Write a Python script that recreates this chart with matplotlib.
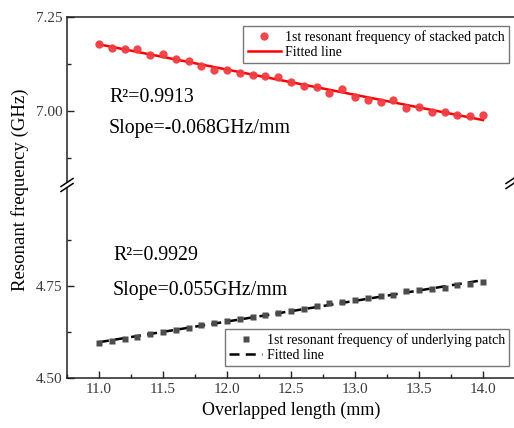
import numpy as np
import matplotlib
matplotlib.use("Agg")
import matplotlib.pyplot as plt
from matplotlib.lines import Line2D
from matplotlib.patches import Polygon
from matplotlib.ticker import MultipleLocator, FixedLocator

plt.rcParams['font.family'] = ['Liberation Serif', 'DejaVu Serif']

# ---- data ----
length_mm = [11.0, 11.1, 11.2, 11.3, 11.4, 11.5, 11.6, 11.7, 11.8, 11.9,
             12.0, 12.1, 12.2, 12.3, 12.4, 12.5, 12.6, 12.7, 12.8, 12.9,
             13.0, 13.1, 13.2, 13.3, 13.4, 13.5, 13.6, 13.7, 13.8, 13.9, 14.0]
stacked_ghz = [7.177, 7.167, 7.166, 7.166, 7.150, 7.151, 7.139, 7.133, 7.119, 7.110,
               7.108, 7.100, 7.096, 7.094, 7.090, 7.076, 7.066, 7.063, 7.047, 7.059,
               7.036, 7.030, 7.024, 7.028, 7.008, 7.010, 6.998, 6.998, 6.989, 6.987, 6.990]
underlying_ghz = [4.594, 4.601, 4.606, 4.611, 4.619, 4.626, 4.630, 4.637, 4.643, 4.649,
                  4.656, 4.660, 4.667, 4.670, 4.677, 4.683, 4.687, 4.695, 4.704, 4.706,
                  4.712, 4.717, 4.722, 4.726, 4.736, 4.738, 4.743, 4.745, 4.752, 4.756, 4.762]
stacked_label = "1st resonant frequency of stacked patch"
underlying_label = "1st resonant frequency of underlying patch"
fit_label = "Fitted line"
top_note = ["R\u00b2=0.9913", "Slope=-0.068GHz/mm"]
bot_note = ["R\u00b2=0.9929", "Slope=0.055GHz/mm"]
x_ticks = [11.0, 11.5, 12.0, 12.5, 13.0, 13.5, 14.0]
top_yticks = [7.00, 7.25]
bot_yticks = [4.50, 4.75]

W, H = 514, 428
fig = plt.figure(figsize=(W / 100, H / 100), dpi=100)

def fx(px):
    return px / W

def fy(py):
    return 1 - py / H

left_px, right_px = 67, 515
top_px, break_px, bottom_px = 17, 185, 378

ax_top = fig.add_axes([fx(left_px), fy(break_px), fx(right_px - left_px), (break_px - top_px) / H])
ax_bot = fig.add_axes([fx(left_px), fy(bottom_px), fx(right_px - left_px), (bottom_px - break_px) / H])

x = np.array(length_mm)
ys = np.array(stacked_ghz)
yu = np.array(underlying_ghz)

red_pt = "#ef3e42"
gray_pt = "#4d4d4d"

# top: stacked patch
ax_top.plot(x, ys, 'o', color=red_pt, ms=6, alpha=0.95, mec='none', label=stacked_label, zorder=3)
p = np.polyfit(x, ys, 1)
ax_top.plot(x, np.polyval(p, x), '-', color='red', lw=1.8, label=fit_label, zorder=2)

# bottom: underlying patch
ax_bot.plot(x, yu, 's', color=gray_pt, ms=5, mec='none', label=underlying_label, zorder=3)
q = np.polyfit(x, yu, 1)
ax_bot.plot(x, np.polyval(q, x), '--', color='black', lw=1.8, dashes=(4, 2.5), label=fit_label, zorder=2)

for ax in (ax_top, ax_bot):
    ax.set_xlim(10.75, 14.25)
    ax.xaxis.set_major_locator(FixedLocator(x_ticks))
    ax.xaxis.set_minor_locator(MultipleLocator(0.25))
    ax.tick_params(which='both', direction='in', labelsize=11, colors='#222222', labelcolor='#3a3a3a')
    ax.tick_params(which='major', length=5, width=1)
    ax.tick_params(which='minor', length=3, width=1)
    for s in ax.spines.values():
        s.set_linewidth(1.1)
        s.set_color('#222222')

ax_top.set_ylim(7.25 - (break_px - top_px) * 0.25 / 94, 7.25)
ax_top.yaxis.set_major_locator(FixedLocator(top_yticks))
ax_top.yaxis.set_minor_locator(FixedLocator([6.875, 7.125]))
ax_top.set_yticklabels(["7.00", "7.25"])
ax_top.spines['bottom'].set_visible(False)
ax_top.tick_params(axis='x', which='both', bottom=False, top=False, labelbottom=False)

ax_bot.set_ylim(4.5, 4.5 + (bottom_px - break_px) * 0.25 / 92)
ax_bot.yaxis.set_major_locator(FixedLocator(bot_yticks))
ax_bot.yaxis.set_minor_locator(FixedLocator([4.625, 4.875]))
ax_bot.set_yticklabels(["4.50", "4.75"])
ax_bot.spines['top'].set_visible(False)
ax_bot.set_xticklabels([f"{v:.1f}" for v in x_ticks])
ax_bot.set_xlabel("Overlapped length (mm)", fontsize=13, labelpad=4)

fig.text(fx(20), fy(190), "Resonant frequency (GHz)", rotation=90, ha='center', va='center', fontsize=13.5)

# annotations
fig.text(fx(109), fy(97), top_note[0], fontsize=14.3, ha='left', va='center')
fig.text(fx(109), fy(128), top_note[1], fontsize=14.3, ha='left', va='center')
fig.text(fx(113), fy(256), bot_note[0], fontsize=14.3, ha='left', va='center')
fig.text(fx(113), fy(290), bot_note[1], fontsize=14.3, ha='left', va='center')

# legends
leg_kw = dict(fontsize=10, frameon=True, fancybox=False, borderaxespad=0, handlelength=2.4,
              handletextpad=0.3, borderpad=0.3, labelspacing=0.15, bbox_transform=fig.transFigure)
l1 = ax_top.legend(loc='upper right', bbox_to_anchor=(fx(509), fy(26)), **leg_kw)
l2 = ax_bot.legend(loc='lower right', bbox_to_anchor=(fx(509), fy(366)), **leg_kw)
for lg in (l1, l2):
    lg.get_frame().set_edgecolor('#555555')
    lg.get_frame().set_linewidth(1.0)

# axis break marks
def break_mark(cx, cy):
    dx, dy, g = 6, 4, 2.5
    poly = Polygon([(fx(cx - dx), fy(cy + dy - g)), (fx(cx + dx), fy(cy - dy - g)),
                    (fx(cx + dx), fy(cy - dy + g)), (fx(cx - dx), fy(cy + dy + g))],
                   closed=True, transform=fig.transFigure, facecolor='white', edgecolor='none', zorder=10)
    fig.patches.append(poly)
    for off in (-g, g):
        fig.lines.append(Line2D([fx(cx - dx), fx(cx + dx)], [fy(cy + dy + off), fy(cy - dy + off)],
                                transform=fig.transFigure, color='black', lw=1.1, zorder=11))

break_mark(left_px, break_px)
break_mark(right_px - 3, break_px - 3)

fig.savefig("out.png", dpi=100)
